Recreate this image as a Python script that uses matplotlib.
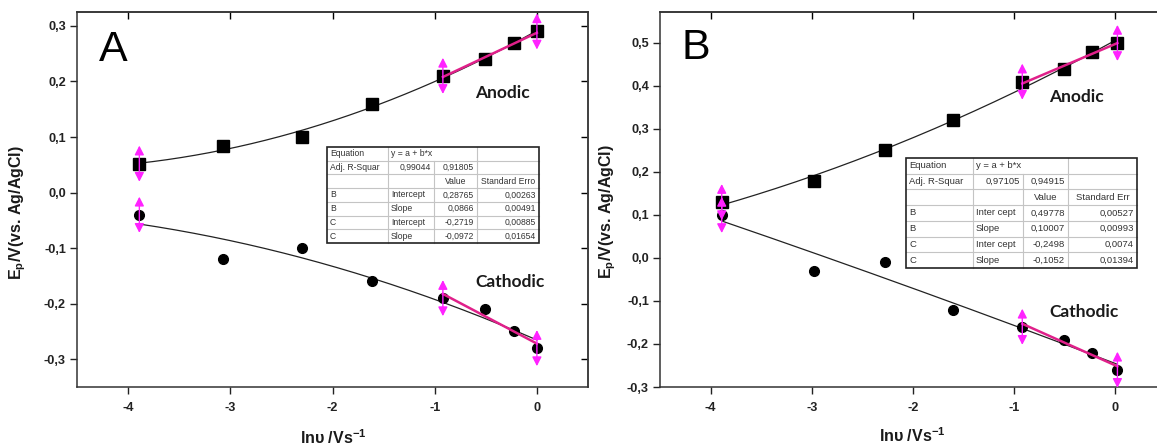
import numpy as np
import matplotlib
matplotlib.use("Agg")
import matplotlib.pyplot as plt
from matplotlib.lines import Line2D
from matplotlib.transforms import ScaledTranslation

plt.rcParams['font.family'] = ['Liberation Sans', 'DejaVu Sans']
plt.rcParams['mathtext.fontset'] = 'custom'
plt.rcParams['mathtext.rm'] = 'Liberation Sans'
plt.rcParams['mathtext.bf'] = 'Liberation Sans:bold'

# ---------------- data ----------------
# Panel A
a_x_an = [-3.89, -3.07, -2.30, -1.61, -0.92, -0.51, -0.22, 0.0]
a_y_an = [0.052, 0.083, 0.100, 0.160, 0.210, 0.240, 0.270, 0.290]
a_x_ca = [-3.89, -3.07, -2.30, -1.61, -0.92, -0.51, -0.22, 0.0]
a_y_ca = [-0.040, -0.120, -0.100, -0.160, -0.190, -0.210, -0.250, -0.280]
# Panel B
b_x_an = [-3.89, -2.98, -2.28, -1.60, -0.92, -0.51, -0.23, 0.02]
b_y_an = [0.130, 0.180, 0.250, 0.320, 0.410, 0.440, 0.480, 0.500]
b_x_ca = [-3.89, -2.98, -2.28, -1.60, -0.92, -0.51, -0.23, 0.02]
b_y_ca = [0.100, -0.030, -0.010, -0.120, -0.160, -0.190, -0.220, -0.260]

# linear fit results (tables)
a_fit = {"B": (0.28765, 0.0866), "C": (-0.2719, -0.0972)}
b_fit = {"B": (0.49778, 0.10007), "C": (-0.2498, -0.1052)}
a_table = [
    ["Equation", "y = a + b*x", None, ""],
    ["Adj. R-Squar", "0,99044", "0,91805", ""],
    ["", "", "Value", "Standard Erro"],
    ["B", "Intercept", "0,28765", "0,00263"],
    ["B", "Slope", "0,0866", "0,00491"],
    ["C", "Intercept", "-0,2719", "0,00885"],
    ["C", "Slope", "-0,0972", "0,01654"],
]
b_table = [
    ["Equation", "y = a + b*x", None, ""],
    ["Adj. R-Squar", "0,97105", "0,94915", ""],
    ["", "", "Value", "Standard Err"],
    ["B", "Inter cept", "0,49778", "0,00527"],
    ["B", "Slope", "0,10007", "0,00993"],
    ["C", "Inter cept", "-0,2498", "0,0074"],
    ["C", "Slope", "-0,1052", "0,01394"],
]
x_ticks = [-4, -3, -2, -1, 0]
x_ticklabels = ["-4", "-3", "-2", "-1", "0"]
a_y_ticks = [-0.3, -0.2, -0.1, 0.0, 0.1, 0.2, 0.3]
a_y_ticklabels = ["-0,3", "-0,2", "-0,1", "0,0", "0,1", "0,2", "0,3"]
b_y_ticks = [-0.3, -0.2, -0.1, 0.0, 0.1, 0.2, 0.3, 0.4, 0.5]
b_y_ticklabels = ["-0,3", "-0,2", "-0,1", "0,0", "0,1", "0,2", "0,3", "0,4", "0,5"]
fit_idx = [4, 5, 6, 7]     # points used by the linear fits
marker_idx = [0, 4, 7]     # data-range markers

W, H = 1157, 446
fig = plt.figure(figsize=(W / 100, H / 100), dpi=100)


def px(x, y):
    return (x / W, 1 - y / H)


MAG = '#e0208a'
ARROW = '#ff22ff'
TXT = '#1a1a1a'


def setup(ax, yticks, ylabels, ylim):
    ax.set_xlim(-4.5, 0.5)
    ax.set_ylim(*ylim)
    ax.set_xticks(x_ticks)
    ax.set_xticklabels(x_ticklabels, fontweight='bold')
    ax.set_yticks(yticks)
    ax.set_yticklabels(ylabels, fontweight='bold')
    ax.tick_params(direction='out', length=5, width=1.0, labelsize=9.2,
                   colors='#222222')
    ax.tick_params(axis='x', pad=6)
    ax.tick_params(axis='y', pad=3)
    for s in ax.spines.values():
        s.set_linewidth(1.1)
        s.set_color('#333333')
    top = ax.secondary_xaxis('top')
    top.set_xticks(x_ticks)
    top.tick_params(direction='in', length=5, width=1.0, labeltop=False)
    top.spines['top'].set_linewidth(1.1)
    top.spines['top'].set_color('#333333')
    right = ax.secondary_yaxis('right')
    right.set_yticks(yticks)
    right.tick_params(direction='in', length=5, width=1.0, labelright=False)
    right.spines['right'].set_linewidth(1.1)
    right.spines['right'].set_color('#555555')


def draw_series(ax, xs, ys, marker, ms, fit):
    xs = np.asarray(xs)
    ys = np.asarray(ys)
    coef = np.polyfit(xs, ys, 2)
    xx = np.linspace(xs.min(), xs.max(), 200)
    ax.plot(xx, np.polyval(coef, xx), color='#222222', lw=0.9, zorder=2)
    ax.plot(xs, ys, ls='none', marker=marker, ms=ms, color='black', zorder=3)
    a, b = fit
    xf = xs[fit_idx]
    ax.plot([xf.min(), xf.max()], [a + b * xf.min(), a + b * xf.max()],
            color=MAG, lw=1.8, zorder=4)
    up = ax.transData + ScaledTranslation(0, 13 / 72, fig.dpi_scale_trans)
    dn = ax.transData + ScaledTranslation(0, -13 / 72, fig.dpi_scale_trans)
    for i in marker_idx:
        ax.annotate('', xy=(xs[i], ys[i]), xycoords=up,
                    xytext=(xs[i], ys[i]), textcoords=dn,
                    arrowprops=dict(arrowstyle='<|-|>,head_length=0.55,head_width=0.28',
                                    color=ARROW, lw=1.0, shrinkA=0, shrinkB=0),
                    annotation_clip=False, zorder=5)


def draw_table(left, top, cols, rowh, rows, fs):
    right = cols[-1]
    n = len(rows)
    bottom = top + n * rowh
    fig.add_artist(plt.Rectangle(px(left, bottom), (right - left) / W,
                                 (bottom - top) / H, fill=True, fc='white',
                                 ec='none', zorder=10,
                                 transform=fig.transFigure))
    lines = []
    for r in range(1, n):
        y = top + r * rowh
        lines.append(([left, right], [y, y]))
    for c in range(1, len(cols) - 1):
        x = cols[c]
        for r in range(n):
            if r == 0 and c == 2:
                continue
            y0 = top + r * rowh
            lines.append(([x, x], [y0, y0 + rowh]))
    for xs_, ys_ in lines:
        fig.add_artist(Line2D([v / W for v in xs_], [1 - v / H for v in ys_],
                              color='#c4c4c4', lw=0.8, zorder=11,
                              transform=fig.transFigure))
    fig.add_artist(plt.Rectangle(px(left, bottom), (right - left) / W,
                                 (bottom - top) / H, fill=False,
                                 ec='#222222', lw=1.2, zorder=12,
                                 transform=fig.transFigure))
    for r, row in enumerate(rows):
        yc = top + (r + 0.5) * rowh
        for c, txt in enumerate(row):
            if not txt:
                continue
            x0, x1 = cols[c], cols[c + 1]
            if c == 0 or c == 1 and (r == 0 or r >= 2):
                ha, x = 'left', x0 + 3
            elif r == 2:
                ha, x = 'center', (x0 + x1) / 2
            else:
                ha, x = 'right', x1 - 3
            fig.text(*px(x, yc), txt, ha=ha, va='center', fontsize=fs,
                     color='#333333', zorder=13)


# ---------------- panel A ----------------
axA = fig.add_axes([77 / W, (H - 387) / H, (588 - 77) / W, (387 - 12) / H])
setup(axA, a_y_ticks, a_y_ticklabels, (-0.35, 0.325))
draw_series(axA, a_x_an, a_y_an, 's', 8.5, a_fit["B"])
draw_series(axA, a_x_ca, a_y_ca, 'o', 7, a_fit["C"])

# ---------------- panel B ----------------
axB = fig.add_axes([660 / W, (H - 387) / H, (1166 - 660) / W, (387 - 12) / H])
setup(axB, b_y_ticks, b_y_ticklabels, (-0.3, 0.572))
draw_series(axB, b_x_an, b_y_an, 's', 8.5, b_fit["B"])
draw_series(axB, b_x_ca, b_y_ca, 'o', 7, b_fit["C"])

# ---------------- texts ----------------
fig.text(*px(113, 50), "A", fontsize=31, ha='center', va='center', color='black')
fig.text(*px(696, 48), "B", fontsize=31, ha='center', va='center', color='black')
for (x, y, t) in [(475, 93, "Anodic"), (475, 282, "Cathodic"),
                  (1049, 97, "Anodic"), (1049, 312, "Cathodic")]:
    fig.text(*px(x, y), t, fontsize=12.5, fontweight='bold', family=['Lato', 'DejaVu Sans'],
             ha='left', va='center', color=TXT)

ylab = r"E$_\mathbf{p}$/V(vs. Ag/AgCl)"
fig.text(*px(18, 213), ylab, rotation=90, fontsize=11.5, fontweight='bold',
         ha='center', va='center', color=TXT)
fig.text(*px(608, 212), ylab, rotation=90, fontsize=11.5, fontweight='bold',
         ha='center', va='center', color=TXT)
xlab = "lnυ /Vs$^{\\mathbf{-1}}$"
fig.text(*px(333, 438), xlab, fontsize=11.5, fontweight='bold', ha='center',
         va='center', color=TXT)
fig.text(*px(912, 436), xlab, fontsize=11.5, fontweight='bold', ha='center',
         va='center', color=TXT)

draw_table(327, 147, [327, 388, 434, 476.5, 539], 13.7, a_table, 6.2)
draw_table(906, 158, [906, 973, 1023, 1068, 1137], 15.7, b_table, 6.8)

fig.savefig("out.png", dpi=100)
